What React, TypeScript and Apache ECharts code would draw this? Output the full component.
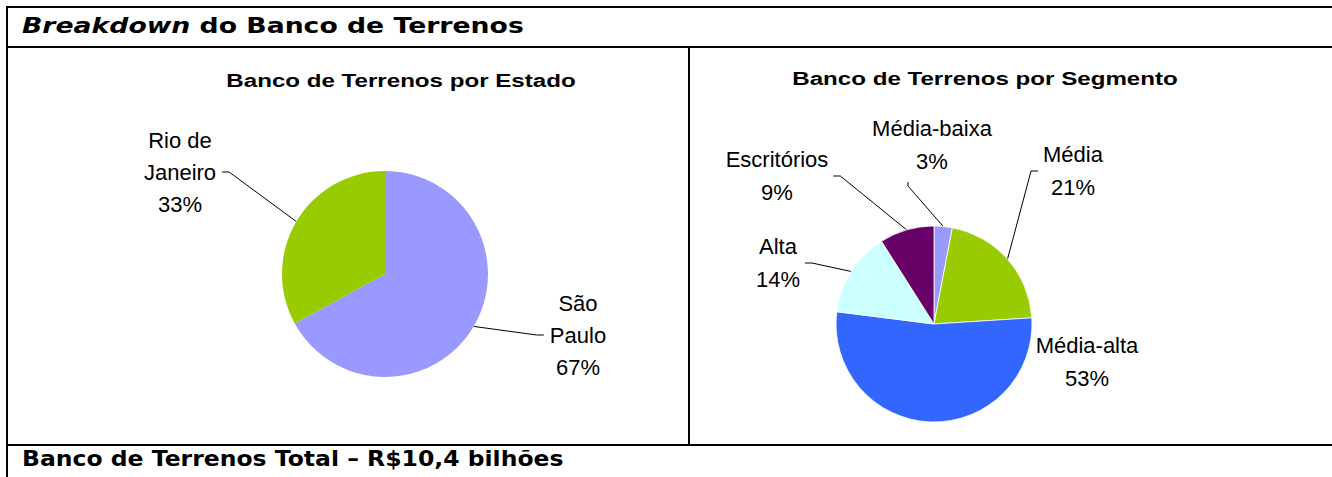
import React, { useEffect, useRef } from "react";
import * as echarts from "echarts";

// ---- data ----
const stateNames = ["São Paulo", "Rio de Janeiro"];
const stateShares = [67, 33];
const segmentNames = ["Média-baixa", "Média", "Média-alta", "Alta", "Escritórios"];
const segmentShares = [3, 21, 53, 14, 9];

// ---- texts ----
const headerItalic = "Breakdown";
const headerRest = " do Banco de Terrenos";
const footerText = "Banco de Terrenos Total – R$10,4 bilhões";
const stateTitle = "Banco de Terrenos por Estado";
const segmentTitle = "Banco de Terrenos por Segmento";

// ---- styles ----
const stateColors = ["#9999FF", "#99CC00"];
const segmentColors = ["#9999FF", "#99CC00", "#3366FF", "#CCFFFF", "#660066"];
const stateLabelPos = [
  [578, 335],
  [180, 172],
];
const segmentLabelPos = [
  [932, 145],
  [1073, 171],
  [1087, 362],
  [778, 263],
  [777, 176],
];

const LABEL_FONT = "'Liberation Sans', Arial, sans-serif";
const HEAD_FONT = "'DejaVu Sans', Verdana, sans-serif";

function breakName(n: string) {
  const i = n.lastIndexOf(" ");
  return i > 0 ? n.slice(0, i) + "\n" + n.slice(i + 1) : n;
}

function makeLayout(posArr: number[][], gap: number) {
  return (p: any) => {
    const [cx, cy] = posArr[p.dataIndex];
    const res: any = { x: cx, y: cy, align: "center", verticalAlign: "middle" };
    const pts = p.labelLinePoints;
    const r = p.labelRect;
    if (pts && pts.length && r) {
      const a = pts[0];
      const w = r.width;
      const h = r.height;
      const left = cx - w / 2;
      const right = cx + w / 2;
      const bottom = cy + h / 2;
      let mid: number[];
      let end: number[];
      if (a[0] >= left && a[0] <= right && a[1] > bottom) {
        end = [cx - 24, bottom + 4];
        mid = [cx - 24, bottom + 8];
      } else if (a[0] < left) {
        end = [left - gap, cy];
        mid = [left - gap - 7, cy];
      } else {
        end = [right + gap, cy];
        mid = [right + gap + 7, cy];
      }
      res.labelLinePoints = [a, mid, end];
    }
    return res;
  };
}

export default function App() {
  const ref = useRef<HTMLDivElement>(null);
  useEffect(() => {
    if (!ref.current) return;
    const chart = echarts.init(ref.current, null, { renderer: "svg" });
    const lineStyle = { stroke: "#000", lineWidth: 2 };
    const labelBase = {
      show: true,
      color: "#000",
      fontFamily: LABEL_FONT,
      fontSize: 22,
      lineHeight: 32,
      align: "center" as const,
    };
    chart.setOption({
      animation: false,
      backgroundColor: "#fff",
      graphic: [
        { type: "line", shape: { x1: 6, y1: 7, x2: 1332, y2: 7 }, style: lineStyle },
        { type: "line", shape: { x1: 6, y1: 47, x2: 1332, y2: 47 }, style: lineStyle },
        { type: "line", shape: { x1: 6, y1: 445, x2: 1332, y2: 445 }, style: lineStyle },
        { type: "line", shape: { x1: 7, y1: 6, x2: 7, y2: 477 }, style: lineStyle },
        { type: "line", shape: { x1: 689, y1: 47, x2: 689, y2: 445 }, style: lineStyle },
        {
          type: "text",
          x: 22,
          y: 26,
          scaleX: 1.27,
          style: {
            text: "{i|" + headerItalic + "}" + headerRest,
            font: "bold 21px " + HEAD_FONT,
            fill: "#000",
            textVerticalAlign: "middle",
            rich: { i: { fontStyle: "italic", fontWeight: "bold", fontSize: 21, fontFamily: HEAD_FONT } },
          },
        },
        {
          type: "text",
          x: 22,
          y: 458,
          scaleX: 1.12,
          style: {
            text: footerText,
            font: "bold 21px " + HEAD_FONT,
            fill: "#000",
            textVerticalAlign: "middle",
          },
        },
        {
          type: "text",
          x: 401,
          y: 80,
          scaleX: 1.27,
          style: {
            text: stateTitle,
            font: "bold 19px " + LABEL_FONT,
            fill: "#000",
            textAlign: "center",
            textVerticalAlign: "middle",
          },
        },
        {
          type: "text",
          x: 985,
          y: 78,
          scaleX: 1.27,
          style: {
            text: segmentTitle,
            font: "bold 19px " + LABEL_FONT,
            fill: "#000",
            textAlign: "center",
            textVerticalAlign: "middle",
          },
        },
      ],
      series: [
        {
          type: "pie",
          silent: true,
          center: [385, 274],
          radius: 103,
          startAngle: 90,
          clockwise: true,
          emphasis: { disabled: true },
          label: { ...labelBase, formatter: (p: any) => breakName(p.name) + "\n" + p.value + "%" },
          labelLine: { show: true, length: 8, length2: 8, smooth: false, lineStyle: { color: "#000", width: 1 } },
          labelLayout: makeLayout(stateLabelPos, 6),
          data: stateNames.map((n, i) => ({ name: n, value: stateShares[i], itemStyle: { color: stateColors[i] } })),
        },
        {
          type: "pie",
          silent: true,
          center: [934, 324],
          radius: 98,
          startAngle: 90,
          clockwise: true,
          emphasis: { disabled: true },
          itemStyle: { borderColor: "#fff", borderWidth: 0.8 },
          label: { ...labelBase, lineHeight: 33, formatter: (p: any) => p.name + "\n" + p.value + "%" },
          labelLine: { show: true, length: 8, length2: 8, smooth: false, lineStyle: { color: "#000", width: 1 } },
          labelLayout: makeLayout(segmentLabelPos, 5),
          data: segmentNames.map((n, i) => ({
            name: n,
            value: segmentShares[i],
            itemStyle: { color: segmentColors[i] },
            labelLine: n === "Média-alta" ? { show: false } : undefined,
          })),
        },
      ],
    });
    return () => chart.dispose();
  }, []);
  return (
    <div
      ref={ref}
      style={{ position: "fixed", left: 0, top: 0, width: 1332, height: 477, background: "#fff" }}
    />
  );
}
